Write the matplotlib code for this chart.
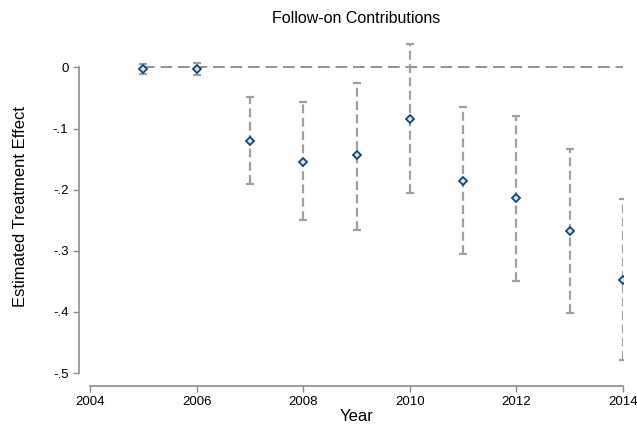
import numpy as np
import matplotlib
matplotlib.use("Agg")
import matplotlib.pyplot as plt

plt.rcParams["font.family"] = ["Liberation Sans", "DejaVu Sans"]

years = [2005, 2006, 2007, 2008, 2009, 2010, 2011, 2012, 2013, 2014]
estimate = [-0.003, -0.003, -0.121, -0.154, -0.144, -0.084, -0.185, -0.213, -0.267, -0.348]
ci_low = [-0.010, -0.013, -0.190, -0.249, -0.266, -0.205, -0.305, -0.349, -0.402, -0.479]
ci_high = [0.005, 0.007, -0.049, -0.056, -0.025, 0.039, -0.064, -0.080, -0.133, -0.216]

yticks = [0, -0.1, -0.2, -0.3, -0.4, -0.5]
ytick_labels = ["0", "-.1", "-.2", "-.3", "-.4", "-.5"]
xticks = [2004, 2006, 2008, 2010, 2012, 2014]

AXIS_GREY = "#8c8c8c"
CI_GREY = "#a0a0a0"
NAVY = "#1a476f"

fig = plt.figure(figsize=(6.37, 4.24), dpi=100)
ax = fig.add_axes([90 / 637, 1 - 373 / 424, (623 - 90) / 637, (373 - 40) / 424])

est = np.array(estimate)
lo = np.array(ci_low)
hi = np.array(ci_high)

# reference line at zero
ax.hlines(0, years[0], years[-1], colors="#808080", linestyles=(0, (7, 3.5)), linewidth=1.2, zorder=1)

eb = ax.errorbar(years, est, yerr=[est - lo, hi - est], fmt="none",
                 ecolor=CI_GREY, elinewidth=1.6, capsize=3, capthick=1.6, zorder=2)
eb[2][0].set_linestyle((0, (4, 2)))

ax.plot(years, est, linestyle="none", marker="D", markersize=4.5,
        markerfacecolor="#cfe3ef", markeredgecolor=NAVY, markeredgewidth=1.3, zorder=3)

ax.set_xlim(2004, 2014)
ax.set_ylim(-0.5, 0.045)
ax.set_xticks(xticks)
ax.set_yticks(yticks)
ax.set_yticklabels(ytick_labels)

for s in ["top", "right"]:
    ax.spines[s].set_visible(False)
ax.spines["left"].set_position(("outward", 8))
ax.spines["bottom"].set_position(("outward", 9))
ax.spines["left"].set_bounds(-0.5, 0)
ax.spines["bottom"].set_bounds(2004, 2014)
for s in ["left", "bottom"]:
    ax.spines[s].set_color(AXIS_GREY)
    ax.spines[s].set_linewidth(1.2)
ax.tick_params(colors=AXIS_GREY, labelcolor="black", labelsize=9.5, length=4, width=1)

ax.set_xlabel("Year", fontsize=12, labelpad=1)
ax.set_ylabel("Estimated Treatment Effect", fontsize=12, labelpad=18)
ax.set_title("Follow-on Contributions", fontsize=11.5, pad=12)

plt.savefig("out.png", dpi=100)
